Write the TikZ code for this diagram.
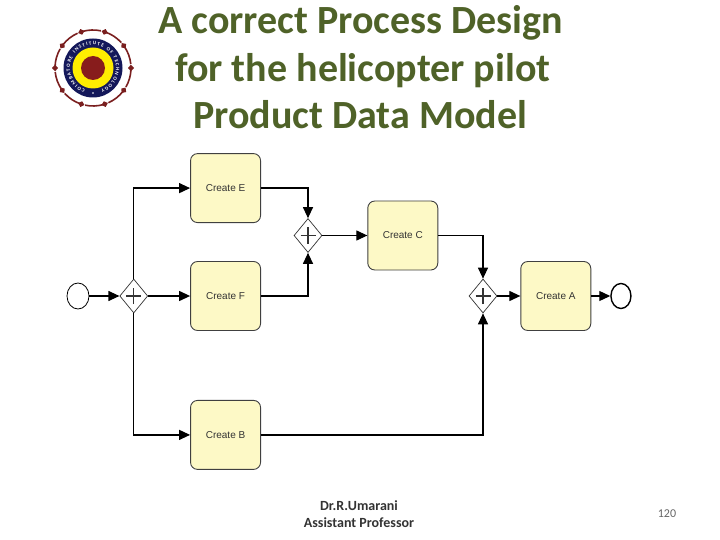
\documentclass[tikz,border=0pt]{standalone}
\usepackage{fontspec}
\setmainfont{Carlito}
\newfontfamily\labelfont{Liberation Sans}
\usepackage{tikz}
\usetikzlibrary{shapes.geometric, arrows.meta, positioning, calc, decorations.text}
\usepackage{xcolor}
\definecolor{titlegreen}{HTML}{4F6228}
\definecolor{taskfill}{HTML}{FDF9C6}
\definecolor{logonavy}{HTML}{14185A}
\definecolor{logomaroon}{HTML}{7A1F1F}
\tikzstyle{task} = [rectangle, rounded corners=7pt, minimum width=70pt, minimum height=69pt,
    text centered, draw=black!75, fill=taskfill, line width=0.9pt, inner sep=0pt, text=black!80, font=\labelfont\fontsize{10}{11}\selectfont]
\tikzstyle{gateway} = [diamond, aspect=0.82, minimum width=28pt, minimum height=34pt, inner sep=0pt,
    draw=black!80, fill=white, line width=0.7pt,
    path picture={\draw[line width=1.3pt] ($(path picture bounding box.center)+(-7.5pt,0)$) -- ($(path picture bounding box.center)+(7.5pt,0)$)
    ($(path picture bounding box.center)+(0,-8pt)$) -- ($(path picture bounding box.center)+(0,8pt)$);}]
\tikzstyle{event} = [ellipse, minimum width=22pt, minimum height=26pt, inner sep=0pt, draw=black, fill=white, line width=0.8pt]
\tikzstyle{endevent} = [event, minimum width=20pt, minimum height=25pt, line width=1.4pt]
\tikzstyle{title} = [text=titlegreen, font=\bfseries\fontsize{40}{44}\selectfont, inner sep=0pt, anchor=base west]
\tikzstyle{footer} = [font=\bfseries\fontsize{14}{16}\selectfont, text=black!80, inner sep=0pt]
\tikzstyle{arrow} = [line width=1.2pt, -{Triangle[length=11pt, width=10pt]}]

\begin{document}
\begin{tikzpicture}[x=1pt, y=-1pt]
\useasboundingbox (0,0) rectangle (720,540);
\fill[white] (0,0) rectangle (720,540);

% heading
\node (titlea) [title] at (158,34) {A correct Process Design};
\node (titleb) [title] at (175,82) {for the helicopter pilot};
\node (titlec) [title] at (193,129) {Product Data Model};

% logo
\begin{scope}[y=1pt, shift={(93,-68)}]
\foreach \ang in {0,36,...,324} {
  \draw[logomaroon, line width=1.6pt] (\ang+6:38) arc[start angle=\ang+6, delta angle=28, radius=38];
  \fill[logomaroon] (\ang:41) -- (\ang+5:38) -- (\ang:35) -- (\ang-5:38) -- cycle;
}
\fill[logonavy] (0,0) circle[radius=29.5];
\fill[yellow!95!orange] (0,0) circle[radius=20.5];
\fill[logomaroon!90!red] (0,0) circle[radius=12];
\path[postaction={decorate, decoration={text along path, text align={fit to path},
    text={|\bfseries\fontsize{5}{6}\selectfont\color{white}|COIMBATORE INSTITUTE OF TECHNOLOGY}}}]
  (250:23) arc[start angle=250, delta angle=-320, radius=23];
\fill[white] (270:25) circle[radius=0.9];
\end{scope}

% events and gateways
\node (start) [event] at (78,296) {};
\node (gwsplit) [gateway, right=30pt of start] {};
\node (taskf) [task, right=42pt of gwsplit] {Create F};
\node (taske) [task, above=38pt of taskf] {Create E};
\node (taskb) [task, below=69pt of taskf] {Create B};
\node (gwjoin) [gateway] at (308,235.5) {};
\node (taskc) [task, right=45pt of gwjoin] {Create C};
\node (gwmerge) [gateway] at (483,296) {};
\node (taska) [task, right=23pt of gwmerge] {Create A};
\node (finish) [endevent, right=19pt of taska] {};

% connectors
\draw [arrow] (start) -- (gwsplit);
\draw [arrow] (gwsplit) -- (taskf);
\draw [arrow] (gwsplit.north) |- (taske.west);
\draw [arrow] (gwsplit.south) |- (taskb.west);
\draw [arrow] (taske.east) -| (gwjoin.north);
\draw [arrow] (taskf.east) -| (gwjoin.south);
\draw [arrow] (gwjoin) -- (taskc);
\draw [arrow] (taskc.east) -| (gwmerge.north);
\draw [arrow] (taskb.east) -| (gwmerge.south);
\draw [arrow] (gwmerge) -- (taska);
\draw [arrow] (taska) -- (finish);

% footer
\node (author) [footer] at (359,506) {Dr.R.Umarani};
\node (role) [footer] at (359,523) {Assistant Professor};
\node (pageno) [text=black!60, font=\fontsize{12}{14}\selectfont, inner sep=0pt] at (667,514) {120};
\end{tikzpicture}
\end{document}
